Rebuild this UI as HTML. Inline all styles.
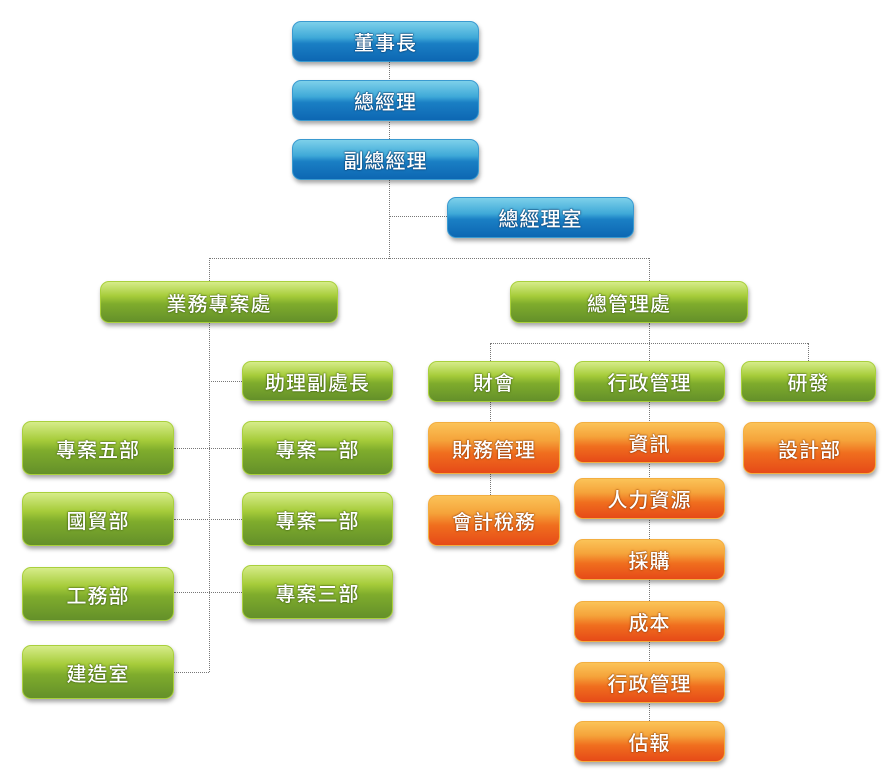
<!DOCTYPE html>
<html><head><meta charset="utf-8">
<style>
html,body{margin:0;padding:0;background:#fff;}
body{width:891px;height:776px;position:relative;overflow:hidden;font-family:"Liberation Sans","Noto Sans CJK TC","WenQuanYi Zen Hei",sans-serif;}
.b{position:absolute;border-radius:9px;color:#fff;font-size:20px;font-weight:500;display:flex;align-items:center;justify-content:center;letter-spacing:1px;box-shadow:1px 3px 4px rgba(0,0,0,0.35);box-sizing:border-box;}
.blue{background:linear-gradient(#7dd0ea 0%,#3fa9d8 40%,#1a7fc4 55%,#0d67b3 100%);border:1px solid #3a9ad0;text-shadow:0 0 2px #0a3f70,0 0 1px #0a3f70,0 0 1px #0a3f70;}
.green{background:linear-gradient(#d6ec8a 0%,#a6cc3a 35%,#7fac2c 55%,#64902a 100%);border:1px solid #a9d03c;text-shadow:0 0 2px #3c5a10,0 0 1px #3c5a10;}
.orange{background:linear-gradient(#fbc358 0%,#f5a33a 35%,#f06e1e 60%,#e64a18 100%);border:1px solid #f3ae40;text-shadow:0 0 2px #8a3a08,0 0 1px #8a3a08;}
.v{position:absolute;width:0;border-left:1px dotted #777;}
.h{position:absolute;height:0;border-top:1px dotted #777;}
</style></head><body>
<div class="v" style="left:389px;top:62px;height:197px"></div>
<div class="h" style="left:389px;top:216px;width:58px"></div>
<div class="h" style="left:209px;top:258px;width:440px"></div>
<div class="v" style="left:209px;top:258px;height:23px"></div>
<div class="v" style="left:649px;top:258px;height:23px"></div>
<div class="v" style="left:209px;top:323px;height:349px"></div>
<div class="h" style="left:209px;top:381px;width:33px"></div>
<div class="h" style="left:174px;top:448px;width:68px"></div>
<div class="h" style="left:174px;top:519px;width:68px"></div>
<div class="h" style="left:174px;top:592px;width:68px"></div>
<div class="h" style="left:174px;top:672px;width:35px"></div>
<div class="v" style="left:649px;top:323px;height:20px"></div>
<div class="h" style="left:490px;top:343px;width:318px"></div>
<div class="v" style="left:490px;top:343px;height:18px"></div>
<div class="v" style="left:808px;top:343px;height:18px"></div>
<div class="v" style="left:490px;top:402px;height:93px"></div>
<div class="v" style="left:649px;top:343px;height:378px"></div>

<div class="b blue" style="left:292px;top:21px;width:187px;height:41px">董事長</div>
<div class="b blue" style="left:292px;top:80px;width:187px;height:41px">總經理</div>
<div class="b blue" style="left:292px;top:139px;width:187px;height:41px">副總經理</div>
<div class="b blue" style="left:447px;top:197px;width:187px;height:41px">總經理室</div>

<div class="b green" style="left:100px;top:281px;width:238px;height:42px">業務專案處</div>
<div class="b green" style="left:510px;top:281px;width:238px;height:42px">總管理處</div>

<div class="b green" style="left:242px;top:361px;width:151px;height:40px">助理副處長</div>
<div class="b green" style="left:242px;top:421px;width:151px;height:54px">專案一部</div>
<div class="b green" style="left:242px;top:492px;width:151px;height:54px">專案一部</div>
<div class="b green" style="left:242px;top:565px;width:151px;height:54px">專案三部</div>
<div class="b green" style="left:22px;top:421px;width:152px;height:54px">專案五部</div>
<div class="b green" style="left:22px;top:492px;width:152px;height:54px">國貿部</div>
<div class="b green" style="left:22px;top:567px;width:152px;height:54px">工務部</div>
<div class="b green" style="left:22px;top:645px;width:152px;height:54px">建造室</div>

<div class="b green" style="left:428px;top:361px;width:132px;height:41px">財會</div>
<div class="b green" style="left:574px;top:361px;width:151px;height:41px">行政管理</div>
<div class="b green" style="left:741px;top:361px;width:135px;height:41px">研發</div>

<div class="b orange" style="left:428px;top:422px;width:132px;height:52px">財務管理</div>
<div class="b orange" style="left:428px;top:495px;width:132px;height:51px">會計稅務</div>
<div class="b orange" style="left:743px;top:422px;width:133px;height:52px">設計部</div>
<div class="b orange" style="left:574px;top:422px;width:151px;height:41px">資訊</div>
<div class="b orange" style="left:574px;top:478px;width:151px;height:41px">人力資源</div>
<div class="b orange" style="left:574px;top:539px;width:151px;height:41px">採購</div>
<div class="b orange" style="left:574px;top:601px;width:151px;height:41px">成本</div>
<div class="b orange" style="left:574px;top:662px;width:151px;height:41px">行政管理</div>
<div class="b orange" style="left:574px;top:721px;width:151px;height:41px">估報</div>
</body></html>
